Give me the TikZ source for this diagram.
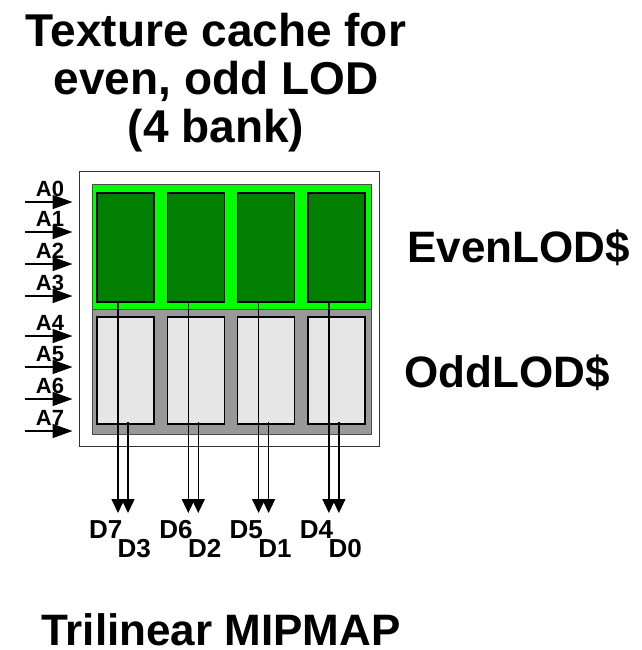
\documentclass[tikz,border=0pt]{standalone}
\usepackage{fontspec}
\setmainfont{Liberation Sans}
\usetikzlibrary{arrows.meta}

\definecolor{evengreen}{HTML}{00FF00}
\definecolor{bankgreen}{HTML}{007F00}
\definecolor{oddgray}{HTML}{999999}
\definecolor{banklight}{HTML}{E6E6E6}

\tikzset{
  bigtext/.style={font=\bfseries\fontsize{44}{50}\selectfont, inner sep=0pt},
  titletext/.style={font=\bfseries\fontsize{46}{48}\selectfont, inner sep=0pt},
  pinlabel/.style={font=\bfseries\fontsize{22}{22}\selectfont, inner sep=0pt},
  outlabel/.style={font=\bfseries\fontsize{26}{26}\selectfont, inner sep=0pt},
  region/.style={draw=black!70, line width=0.8pt, minimum width=279pt, minimum height=125pt, inner sep=0pt},
  bank/.style={draw=black, line width=1.5pt, minimum width=57pt, inner sep=0pt},
  inwire/.style={line width=1.5pt, shorten >=6pt, -{Triangle[length=20pt,width=14pt]}},
  outwire/.style={line width=1.5pt, -{Triangle[length=14pt,width=13pt]}},
}

\begin{document}
\begin{tikzpicture}[x=1pt,y=-1pt]
  \useasboundingbox (0,0) rectangle (641,650);

  % titles
  \node[titletext, align=center, anchor=north] (title) at (216,12.5)
    {Texture cache for\\even, odd LOD\\(4 bank)};
  \node[bigtext, anchor=base west] (evenname) at (407,262) {EvenLOD\$};
  \node[bigtext, anchor=base west] (oddname) at (404,387) {OddLOD\$};
  \node[bigtext, anchor=base west] (mipmap) at (41,645) {Trilinear MIPMAP};

  % cache block
  \node[draw=black!80, line width=1pt, fill=white, minimum width=300pt, minimum height=275pt] (cache) at (229,308.5) {};
  \node[region, fill=evengreen] (even) at (231.5,246.5) {};
  \node[region, fill=oddgray] (odd) at (231.5,371.5) {};

  % banks and data outputs
  \foreach \i in {1,...,4} {
    \pgfmathsetmacro\x{125.5+70.3*(\i-1)}
    \pgfmathtruncatemacro\hi{8-\i}
    \pgfmathtruncatemacro\lo{4-\i}
    \node[bank, fill=bankgreen, minimum height=109pt] (e\i) at (\x,247.5) {};
    \node[bank, fill=banklight, minimum height=107pt] (o\i) at (\x,370.5) {};
    \coordinate (te\i) at (\x-7.5,513);
    \coordinate (to\i) at (\x+2.5,513);
    \draw[outwire] (e\i.south -| te\i) -- (te\i);
    \draw[outwire] ([yshift=3pt]o\i.south -| to\i) -- (to\i);
    \node[outlabel, anchor=base east] (d\hi) at (\x-3,538) {D\hi};
    \node[outlabel, anchor=base west] (d\lo) at (\x-8,557) {D\lo};
  }

  % address inputs
  \foreach \n/\y in {0/202,1/232,2/264,3/296,4/336,5/367,6/399,7/431} {
    \coordinate (a\n) at (25,\y);
    \draw[inwire] (a\n) -- (cache.west |- a\n);
    \node[pinlabel, anchor=base] (l\n) at (50,\y-6) {A\n};
  }
\end{tikzpicture}
\end{document}
